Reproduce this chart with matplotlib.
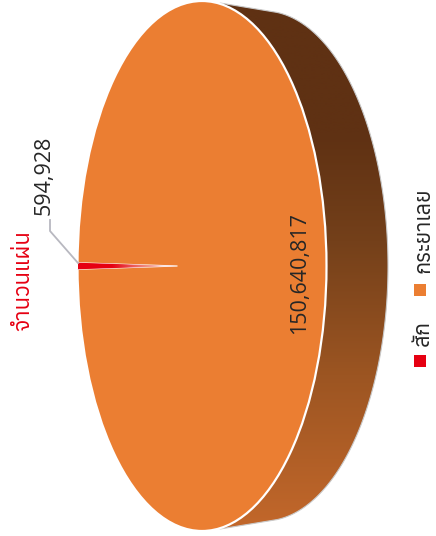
import numpy as np
import matplotlib
matplotlib.use('Agg')
import matplotlib.pyplot as plt
from matplotlib import font_manager as fm
from matplotlib.colors import LinearSegmentedColormap
from matplotlib.patches import Polygon, Rectangle, Ellipse
from matplotlib.transforms import Affine2D

categories = ['สัก', 'กระยาเลย']
values = [594928, 150640817]
value_labels = ['594,928', '150,640,817']
colors = ['#E60012', '#EB7E32']
title = 'จำนวนแผ่น'

W, H = 436, 536
CX, CY, RX, RY = 202, 266, 124.5, 265

thai = []
for f in fm.fontManager.ttflist:
    try:
        if fm.get_font(f.fname).get_char_index(0x0E08):
            thai.append(f.name)
    except Exception:
        pass
FONT = ['Open Sans', 'Noto Sans', 'DejaVu Sans']
THAI = sorted(set(thai)) + ['DejaVu Sans']
plt.rcParams['font.family'] = FONT

fig = plt.figure(figsize=(W / 100, H / 100), dpi=100)
ax = fig.add_axes([0, 0, 1, 1])
start = 180 - values[0] / sum(values) * 180
wedges, _ = ax.pie(values, colors=colors, startangle=start, radius=1,
                   wedgeprops=dict(edgecolor='none', linewidth=0))
ax.set_aspect('auto')
XL = (-CX / RX, (W - CX) / RX)
YL = (-(H - CY) / RY, CY / RY)
px = lambda x, y: ((x - CX) / RX, (CY - y) / RY)

# extruded side
t = np.radians(np.linspace(84, -84, 200))
sx, sy = px(CX + 62 + 124 * np.cos(t), CY + 255 * -np.sin(t))
a = px(220, 3); b = px(220, 529)
side = np.column_stack([np.r_[a[0], sx, b[0]], np.r_[a[1], sy, b[1]]])
side_cmap = LinearSegmentedColormap.from_list('side', [
    (0, '#5F3113'), (0.25, '#5F3113'), (0.45, '#74401A'), (0.7, '#9C5522'), (1, '#C4682B')])
im = ax.imshow(np.linspace(0, 1, 256)[:, None], cmap=side_cmap, aspect='auto',
               extent=(XL[0], XL[1], YL[0], YL[1]), origin='upper', zorder=0.5)
sp = Polygon(side, closed=True, transform=ax.transData, facecolor='none',
             edgecolor='#C9C9C9', linewidth=0.8, zorder=0.6)
ax.add_patch(sp)
im.set_clip_path(sp)
for w in wedges:
    w.set_zorder(2)
# face under the slices, and its white rim above them
ax.add_patch(Ellipse((0, 0), 2, 2, facecolor=colors[1], edgecolor='none', zorder=1.5))
ax.add_patch(Ellipse((0, 0), 2, 2, facecolor='none', edgecolor='white', linewidth=1.6, zorder=2.5))

# thin slice runs from the rim to an apex left of the centre
rw = wedges[0]
shrink = Affine2D().translate(1, 0).scale(100 / RX, 1).translate(-1, 0)
rw.set_transform(shrink + ax.transData)
rw.set_zorder(3)
rw.set_edgecolor('white')
rw.set_linewidth(0.8)
red_cmap = LinearSegmentedColormap.from_list('red', ['#E60012', '#E60012', '#F08A80', '#FFFFFF'])
im2 = ax.imshow(np.linspace(0, 1, 128)[None, :], cmap=red_cmap, aspect='auto',
                extent=(px(78, 0)[0], px(178, 0)[0], -0.03, 0.03), zorder=3.5)
im2.set_clip_path(rw)
ax.set_xlim(XL); ax.set_ylim(YL)

def T(x, y, s, **k):
    fig.text(x / W, 1 - y / H, s, rotation=90, ha='center', va='center', **k)

T(44, 175, value_labels[0], fontsize=15.5, color='#262626')
T(300, 273, value_labels[1], fontsize=15.5, color='#262626')
T(23, 281, title, fontsize=16, color='#E60012', family=THAI, fontweight='bold')
lx, ly = px(np.array([78, 50, 50]), np.array([263, 231, 220]))
ax.plot(lx, ly, color='#B8B8C0', lw=1.3, zorder=4)
for (yc, c, name, ty, fs) in zip((361, 290), colors, categories, (333, 230), (15.5, 15.5)):
    fig.add_artist(Rectangle((414 / W, 1 - (yc + 6) / H), 12 / W, 12 / H, transform=fig.transFigure,
                             facecolor=c, edgecolor='none'))
    T(423, ty, name, fontsize=fs, color='#262626', family=THAI)
fig.savefig('out.png', dpi=100)
